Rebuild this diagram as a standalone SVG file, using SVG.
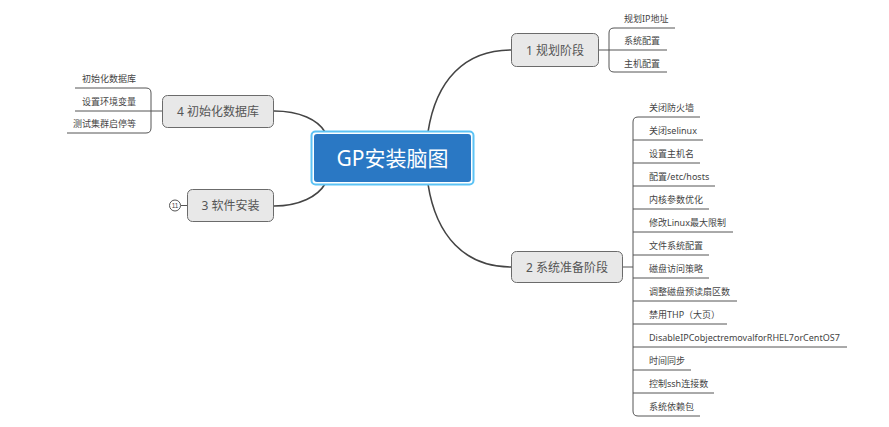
<svg xmlns="http://www.w3.org/2000/svg" width="889" height="427" viewBox="0 0 889 427">
<style>
.bg{fill:#ffffff}
.node rect{fill:#e8e8e8;stroke:#6b6b6b;stroke-width:1}
.nt{font-family:"Noto Sans","Noto Sans CJK SC",sans-serif;font-size:12px;fill:#555555;text-anchor:middle}
.ct{font-family:"Noto Sans","Noto Sans CJK SC",sans-serif;font-size:21px;fill:#ffffff;text-anchor:middle}
.lt{font-family:"Noto Sans","Noto Sans CJK SC",sans-serif;font-size:9px;fill:#444444}
.conn path{fill:none;stroke:#444444;stroke-width:1.6}
.ln path{fill:none;stroke:#555555;stroke-width:1}
</style>
<rect class="bg" x="0" y="0" width="889" height="427"/>
<g id="connectors">
  <g class="conn">
    <path d="M428,132 C436,80 465,50 511,50"/>
    <path d="M428,184 C436,236 465,267 511,267"/>
    <path d="M274,111 C300,111 318,120 325,132"/>
    <path d="M274,206 C300,206 318,196 325,184"/>
  </g>
  <g class="ln">
    <path d="M675,28 H614 Q609,28 609,33 V67 Q609,72 614,72 H667"/>
    <path d="M599,50 H667"/>
    <path d="M700,117 H638 Q633,117 633,122 V411 Q633,416 638,416 H700"/>
    <path d="M623,267 H633"/>
    <path d="M633,140 H703"/>
    <path d="M633,163 H700"/>
    <path d="M633,186 H715"/>
    <path d="M633,209 H709"/>
    <path d="M633,232 H733"/>
    <path d="M633,255 H709"/>
    <path d="M633,278 H709"/>
    <path d="M633,301 H737"/>
    <path d="M633,324 H727"/>
    <path d="M633,347 H847"/>
    <path d="M633,370 H691"/>
    <path d="M633,393 H714"/>
    <path d="M75,88 H146 Q151,88 151,93 V128 Q151,133 146,133 H67"/>
    <path d="M162,111 H75"/>
    <path d="M181,205.5 H187"/>
  </g>
</g>
<g id="center">
  <rect x="311.5" y="131.5" width="162" height="53" rx="4" fill="#ffffff" stroke="#5cc3f5" stroke-width="2"/>
  <rect x="314" y="134" width="157" height="48" rx="3" fill="#2a78c4"/>
  <text class="ct" x="392.5" y="166">GP安装脑图</text>
</g>
<g id="n1" class="node">
  <rect x="511.5" y="33.5" width="87" height="33" rx="5"/>
  <text class="nt" x="555" y="54.5">1 规划阶段</text>
</g>
<g id="n2" class="node">
  <rect x="511.5" y="251.5" width="111" height="31" rx="5"/>
  <text class="nt" x="567" y="271.5">2 系统准备阶段</text>
</g>
<g id="n3" class="node">
  <rect x="187.5" y="189.5" width="86" height="32" rx="5"/>
  <text class="nt" x="230.5" y="210">3 软件安装</text>
</g>
<g id="n3badge">
  <circle cx="175" cy="205.5" r="5.5" fill="#ffffff" stroke="#555555" stroke-width="1"/>
  <text x="175" y="208" font-family="Liberation Sans,sans-serif" font-size="6.5" fill="#444444" text-anchor="middle">11</text>
</g>
<g id="n4" class="node">
  <rect x="162.5" y="95.5" width="111" height="32" rx="5"/>
  <text class="nt" x="218" y="116">4 初始化数据库</text>
</g>
<g id="n1-children" class="lt">
  <text x="624" y="22">规划IP地址</text>
  <text x="624" y="44">系统配置</text>
  <text x="624" y="67">主机配置</text>
</g>
<g id="n2-children" class="lt">
  <text x="649" y="111">关闭防火墙</text>
  <text x="649" y="134">关闭selinux</text>
  <text x="649" y="157">设置主机名</text>
  <text x="649" y="180">配置/etc/hosts</text>
  <text x="649" y="203">内核参数优化</text>
  <text x="649" y="226">修改Linux最大限制</text>
  <text x="649" y="249">文件系统配置</text>
  <text x="649" y="272">磁盘访问策略</text>
  <text x="649" y="295">调整磁盘预读扇区数</text>
  <text x="649" y="318">禁用THP（大页）</text>
  <text x="649" y="341">DisableIPCobjectremovalforRHEL7orCentOS7</text>
  <text x="649" y="364">时间同步</text>
  <text x="649" y="387">控制ssh连接数</text>
  <text x="649" y="410">系统依赖包</text>
</g>
<g id="n4-children" class="lt" text-anchor="end">
  <text x="136" y="82">初始化数据库</text>
  <text x="136" y="105">设置环境变量</text>
  <text x="136" y="127">测试集群启停等</text>
</g>
</svg>
